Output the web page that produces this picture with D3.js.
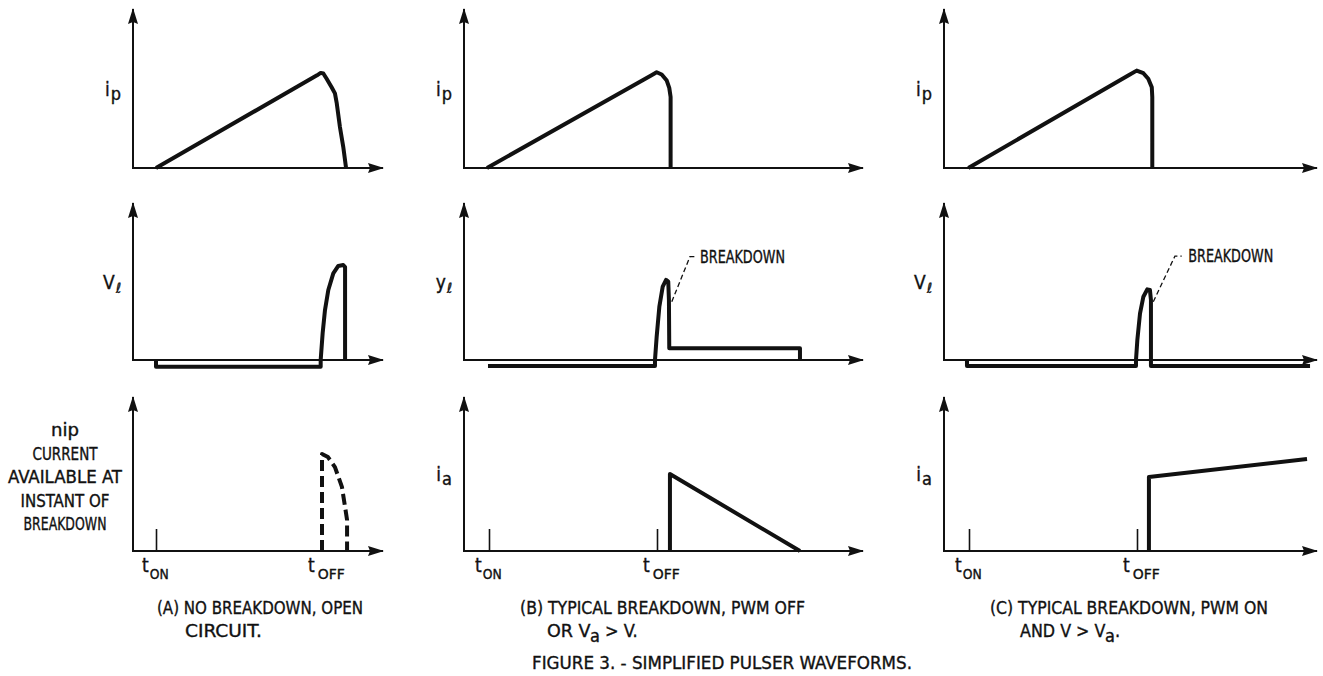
<!DOCTYPE html>
<html>
<head>
<meta charset="utf-8">
<script src="https://cdn.jsdelivr.net/npm/d3@7"></script>
<style>
  body { margin: 0; background: #fff; }
  svg { display: block; }
  text {
    font-family: "DejaVu Sans Condensed", "Liberation Sans Narrow", "DejaVu Sans", sans-serif;
    font-stretch: condensed;
    fill: #111;
    stroke: #111;
    stroke-width: 0.35px;
  }
</style>
</head>
<body>
<div id="plot"></div>
<script>
// Waveforms: time normalised so t_ON = 0 and t_OFF = 1,
// amplitude as a fraction of the panel's axis height.
const ipA = [[0, 0], [0.97, 0.583], [0.992, 0.598], [1.008, 0.594], [1.028, 0.561], [1.058, 0.508],
  [1.078, 0.469], [1.089, 0.406], [1.108, 0.258], [1.128, 0.133], [1.145, 0]];
const vlA = [[0, 0], [0, -0.043], [0.992, -0.043], [0.992, 0], [1.004, 0.172], [1.018, 0.318],
  [1.038, 0.446], [1.068, 0.552], [1.098, 0.599], [1.128, 0.605], [1.139, 0.592], [1.139, 0]];
const nipA = [[1.0, 0], [1.0, 0.63], [1.036, 0.61], [1.078, 0.545], [1.12, 0.416], [1.139, 0.286],
  [1.151, 0.201], [1.151, 0]];

const ipB = [[-0.012, 0], [0.97, 0.585], [0.998, 0.602], [1.028, 0.588], [1.058, 0.55], [1.073, 0.504],
  [1.081, 0.446], [1.081, 0]];
const vlB = [[-0.006, -0.038], [0.988, -0.038], [0.988, 0], [0.998, 0.148], [1.014, 0.34], [1.034, 0.467],
  [1.054, 0.51], [1.067, 0.499], [1.071, 0.382], [1.073, 0.075], [1.851, 0.075], [1.851, 0]];
const iaB = [[1.077, 0], [1.077, 0.5], [1.851, 0]];

const ipC = [[-0.004, 0], [0.95, 0.583], [0.998, 0.6125], [1.038, 0.596], [1.067, 0.561], [1.088, 0.508],
  [1.091, 0.446], [1.091, 0]];
const vlC = [[-0.012, 0], [-0.012, -0.038], [0.994, -0.038], [0.994, 0], [1.002, 0.127], [1.018, 0.297],
  [1.038, 0.403], [1.061, 0.45], [1.077, 0.446], [1.083, 0.382], [1.083, -0.038], [2.03, -0.038]];
const iaC = [[1.071, 0], [1.071, 0.48], [2.012, 0.597]];

// "BREAKDOWN" leader lines and label anchor
const leaderB = [[1.088, 0.371], [1.196, 0.658], [1.236, 0.658]];
const leaderC = [[1.097, 0.371], [1.226, 0.662], [1.266, 0.662]];
const breakdownLabelB = [1.256, 0.618];
const breakdownLabelC = [1.305, 0.624];

// bottom-row ticks
const tickTimes = [0, 1];
const tickNames = ['ON', 'OFF'];

// axis labels (main letter, subscript)
const topLabels = [['i', 'p'], ['i', 'p'], ['i', 'p']];
const midLabels = [['V', 'ℓ'], ['y', 'ℓ'], ['V', 'ℓ']];
const lowLabels = [null, ['i', 'a'], ['i', 'a']];
const nipLines = ['nip', 'CURRENT', 'AVAILABLE AT', 'INSTANT OF', 'BREAKDOWN'];

const captionA = ['(A) NO BREAKDOWN, OPEN', 'CIRCUIT.'];
const captionB = ['(B) TYPICAL BREAKDOWN, PWM OFF', ['OR V', 'a', ' > V.']];
const captionC = ['(C) TYPICAL BREAKDOWN, PWM ON', ['AND V > V', 'a', '.']];
const figureTitle = 'FIGURE 3. - SIMPLIFIED PULSER WAVEFORMS.';

// ---- layout (pixels) ----
const W = 1323, H = 676;
const cols = [
  { axisX: 133, arrowX: 383, ton: 156, toff: 322 },
  { axisX: 464, arrowX: 863, ton: 489, toff: 657 },
  { axisX: 944, arrowX: 1317, ton: 969, toff: 1137 }
];
const rows = [
  { base: 168, tip: 9 },
  { base: 360, tip: 203 },
  { base: 551, tip: 397 }
];

const svg = d3.select('#plot').append('svg').attr('width', W).attr('height', H);

svg.append('defs').append('marker')
  .attr('id', 'arrow')
  .attr('viewBox', '0 0 16 10')
  .attr('refX', 15)
  .attr('refY', 5)
  .attr('markerWidth', 16)
  .attr('markerHeight', 10)
  .attr('markerUnits', 'userSpaceOnUse')
  .attr('orient', 'auto-start-reverse')
  .append('path')
  .attr('d', 'M0,0 L16,5 L0,10 L2,5 Z')
  .attr('fill', '#111');

const panels = [
  { c: 0, r: 0, series: [ipA], label: topLabels[0] },
  { c: 0, r: 1, series: [vlA], label: midLabels[0] },
  { c: 0, r: 2, series: [], dashed: nipA, ticks: [0], names: true },
  { c: 1, r: 0, series: [ipB], label: topLabels[1] },
  { c: 1, r: 1, series: [vlB], label: midLabels[1], leader: leaderB, leaderText: breakdownLabelB },
  { c: 1, r: 2, series: [iaB], label: lowLabels[1], ticks: tickTimes, names: true },
  { c: 2, r: 0, series: [ipC], label: topLabels[2] },
  { c: 2, r: 1, series: [vlC], label: midLabels[2], leader: leaderC, leaderText: breakdownLabelC },
  { c: 2, r: 2, series: [iaC], label: lowLabels[2], ticks: tickTimes, names: true }
];

panels.forEach((p) => {
  const col = cols[p.c], row = rows[p.r];
  const x = d3.scaleLinear().domain([0, 1]).range([col.ton, col.toff]);
  const y = d3.scaleLinear().domain([0, 1]).range([row.base, row.tip]);
  const line = d3.line().x((d) => x(d[0])).y((d) => y(d[1]));
  const g = svg.append('g');

  // axes with arrowheads
  g.append('path')
    .attr('d', `M${col.axisX},${row.tip} L${col.axisX},${row.base} L${col.arrowX},${row.base}`)
    .attr('fill', 'none')
    .attr('stroke', '#111')
    .attr('stroke-width', 2)
    .attr('marker-start', 'url(#arrow)')
    .attr('marker-end', 'url(#arrow)');

  if (p.ticks) {
    const ax = g.append('g')
      .attr('transform', `translate(0,${row.base})`)
      .call(d3.axisBottom(x).tickValues(p.ticks).tickSize(-22).tickSizeOuter(0).tickFormat(''));
    ax.select('.domain').remove();
    ax.selectAll('line').attr('stroke', '#111').attr('stroke-width', 1.6);
  }

  if (p.names) {
    tickTimes.forEach((t, i) => {
      const tx = g.append('text')
        .attr('x', x(t) - 14)
        .attr('y', row.base + 21)
        .style('font-size', '19px');
      tx.append('tspan').text('t');
      tx.append('tspan')
        .attr('dx', i === 0 ? 1 : 3)
        .attr('dy', 7)
        .attr('textLength', i === 0 ? 19 : 27)
        .attr('lengthAdjust', 'spacingAndGlyphs')
        .style('font-size', '14px')
        .text(tickNames[i]);
    });
  }

  p.series.forEach((s) => {
    g.append('path')
      .datum(s)
      .attr('d', line)
      .attr('fill', 'none')
      .attr('stroke', '#111')
      .attr('stroke-width', 4)
      .attr('stroke-linejoin', 'round');
  });

  if (p.dashed) {
    g.append('path')
      .datum(p.dashed)
      .attr('d', line)
      .attr('fill', 'none')
      .attr('stroke', '#111')
      .attr('stroke-width', 4)
      .attr('stroke-dasharray', '11,5')
      .attr('stroke-linejoin', 'round');
  }

  if (p.leader) {
    g.append('path')
      .datum(p.leader)
      .attr('d', line)
      .attr('fill', 'none')
      .attr('stroke', '#111')
      .attr('stroke-width', 1.3)
      .attr('stroke-dasharray', '5,3');
    g.append('text')
      .attr('x', x(p.leaderText[0]))
      .attr('y', y(p.leaderText[1]))
      .attr('textLength', 85)
      .attr('lengthAdjust', 'spacingAndGlyphs')
      .style('font-size', '17px')
      .text('BREAKDOWN');
  }

  if (p.label) {
    const lt = g.append('text')
      .attr('x', col.axisX - 12)
      .attr('y', y(0.455))
      .attr('text-anchor', 'end')
      .style('font-size', '19px');
    lt.append('tspan').text(p.label[0]);
    lt.append('tspan')
      .attr('dx', 1)
      .attr('dy', 4)
      .style('font-size', p.label[1] === 'ℓ' ? '14px' : '18px')
      .style('font-style', p.label[1] === 'ℓ' ? 'italic' : 'normal')
      .text(p.label[1]);
  }
});

// multi-line label for panel A bottom
const nipWidths = [28, 65, 114, 89, 83];
svg.append('g').selectAll('text')
  .data(nipLines)
  .enter()
  .append('text')
  .attr('x', 65)
  .attr('y', (d, i) => 436 + i * 23.5)
  .attr('text-anchor', 'middle')
  .attr('textLength', (d, i) => nipWidths[i])
  .attr('lengthAdjust', 'spacingAndGlyphs')
  .style('font-size', '17px')
  .text((d) => d);

// captions
function plain(xp, yp, str, len) {
  svg.append('text')
    .attr('x', xp)
    .attr('y', yp)
    .attr('textLength', len)
    .attr('lengthAdjust', 'spacingAndGlyphs')
    .style('font-size', '18px')
    .text(str);
}
function withSub(xp, yp, parts, len) {
  const t = svg.append('text').attr('x', xp).attr('y', yp).style('font-size', '18px');
  t.append('tspan').attr('textLength', len).attr('lengthAdjust', 'spacingAndGlyphs').text(parts[0]);
  t.append('tspan').attr('dx', 1).attr('dy', 5).text(parts[1]);
  t.append('tspan').attr('dy', -5).text(parts[2]);
}

plain(157, 614, captionA[0], 206);
plain(185, 637, captionA[1], 77);
plain(520, 614, captionB[0], 285);
withSub(547, 637, captionB[1], 42);
plain(990, 614, captionC[0], 278);
withSub(1020, 637, captionC[1], 84);
plain(532, 669, figureTitle, 380);
</script>
</body>
</html>
